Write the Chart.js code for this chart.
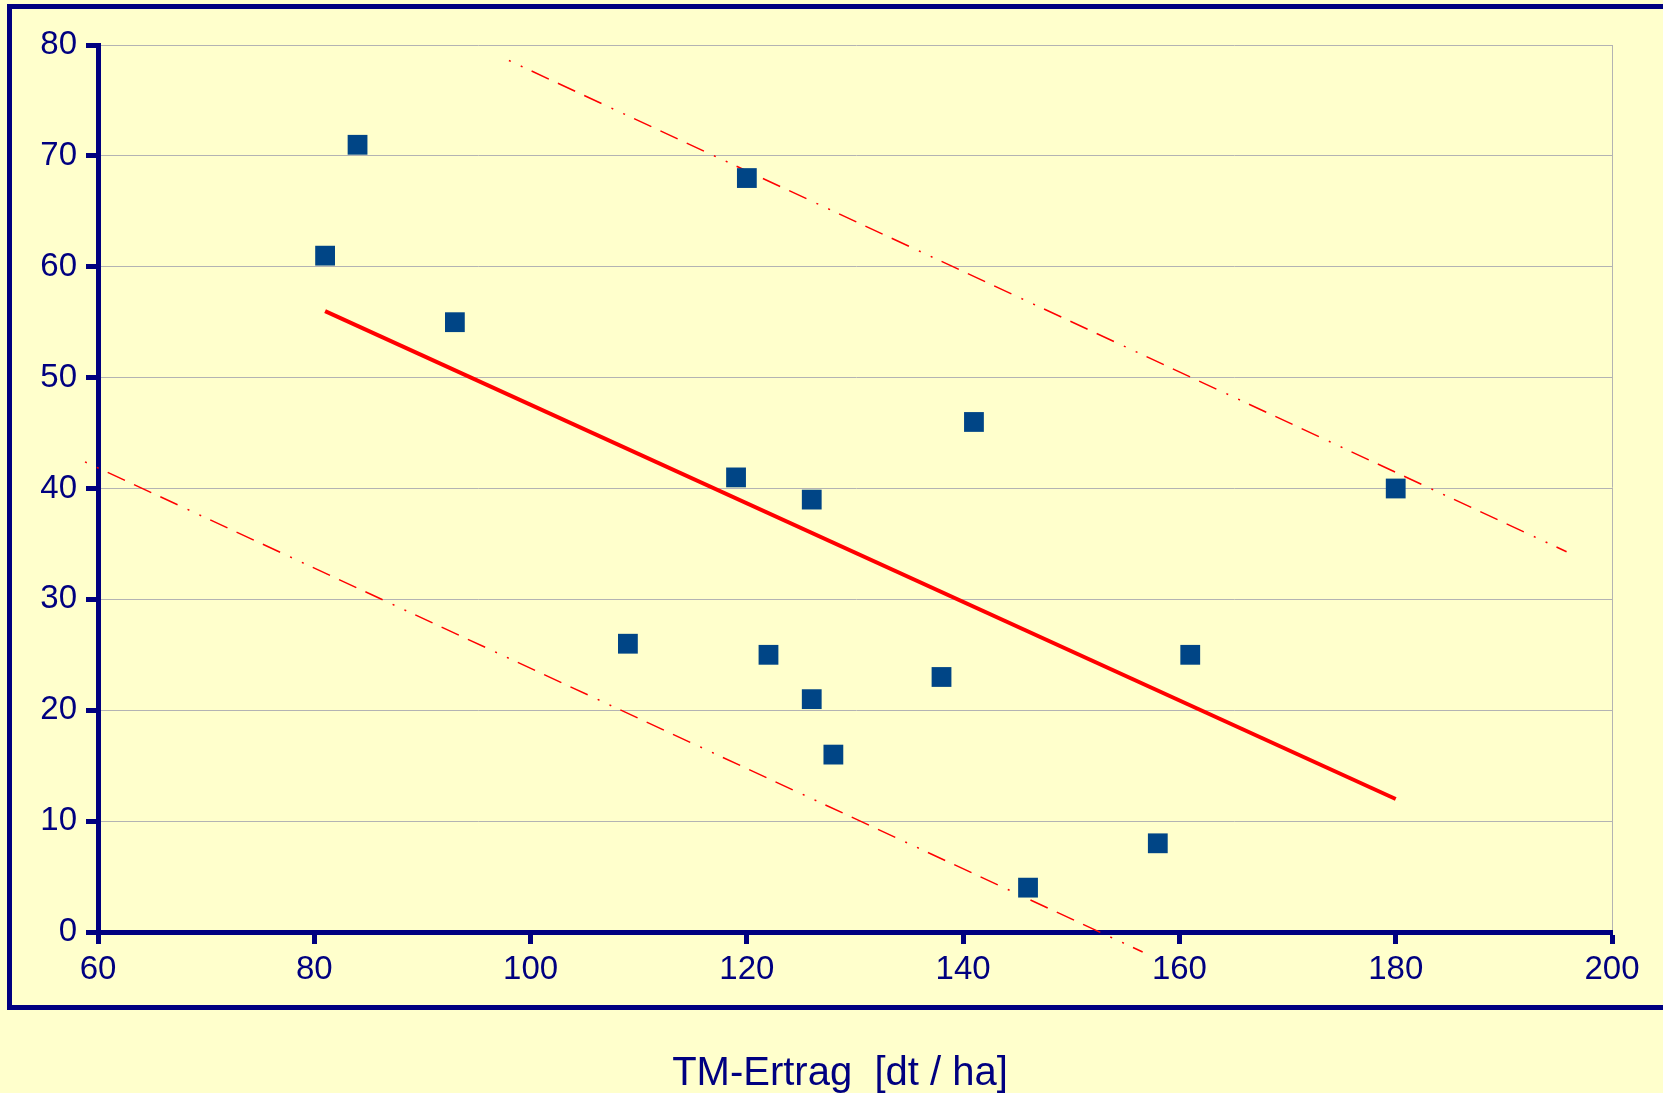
<!DOCTYPE html>
<html><head><meta charset="utf-8">
<script src="https://cdn.jsdelivr.net/npm/chart.js@4.4.1/dist/chart.umd.min.js"></script>
<style>
html,body{margin:0;padding:0;background:#ffffcc;overflow:hidden;width:1663px;height:1093px;}
#frame{position:absolute;left:7px;top:4px;width:1700px;height:996px;border:5px solid #000080;}
#c{position:absolute;left:0;top:0;}
</style></head><body>
<div id="frame"></div>
<canvas id="c" width="1663" height="1093"></canvas>
<script>
// ---- data ----
const xTicks = [60, 80, 100, 120, 140, 160, 180, 200];
const yTicks = [0, 10, 20, 30, 40, 50, 60, 70, 80];
const yieldX = [81, 84, 93, 109, 120, 119, 122, 126, 126, 128, 138, 141, 146, 158, 161, 180];
const valueY = [61, 71, 55, 26, 68, 41, 25, 39, 21, 16, 23, 46, 4, 8, 25, 40];
const fitX = [81, 180];
const fitY = [56, 12];
const upperX = [98.0, 195.8];
const upperY = [78.6, 34.3];
const lowerX = [58.8, 156.6];
const lowerY = [42.4, -1.8];
const axisTitle = 'TM-Ertrag  [dt / ha]';

const pts = (xs, ys) => xs.map((x, i) => ({x: x, y: ys[i]}));
const NAVY = '#000080';
const GRID = '#b3b3b3';
const dashDot = [2, 11, 2, 10, 19, 10, 19, 10, 19, 11];
const tickFont = {family: 'Liberation Sans', size: 33};

// shift the bottom title so it is centred where the original puts it
const titleShift = {
  id: 'titleShift',
  afterLayout(chart) {
    const t = chart.titleBlock;
    if (t) { t.left += 34; t.right += 34; }
  }
};

new Chart(document.getElementById('c'), {
  type: 'scatter',
  plugins: [titleShift],
  data: {
    datasets: [
      {data: pts(upperX, upperY), showLine: true, borderColor: '#ff0000', borderWidth: 1.5,
       borderDash: dashDot, pointRadius: 0, clip: false, order: 3},
      {data: pts(lowerX, lowerY), showLine: true, borderColor: '#ff0000', borderWidth: 1.5,
       borderDash: dashDot, pointRadius: 0, clip: false, order: 3},
      {data: pts(fitX, fitY), showLine: true, borderColor: '#ff0000', borderWidth: 4,
       pointRadius: 0, clip: false, order: 2},
      {data: pts(yieldX, valueY), showLine: false, pointStyle: 'rect', pointRadius: 14,
       pointHoverRadius: 14, backgroundColor: '#004586', borderColor: '#004586',
       pointBorderWidth: 0, order: 1}
    ]
  },
  options: {
    responsive: false,
    animation: false,
    events: [],
    layout: {autoPadding: false, padding: {left: 0, right: 51, top: 45, bottom: 0}},
    plugins: {
      legend: {display: false},
      tooltip: {enabled: false},
      title: {display: true, text: axisTitle, position: 'bottom', color: NAVY,
        font: {family: 'Liberation Sans', size: 40, weight: 'normal', lineHeight: 0.95},
        padding: {top: 0, bottom: 0}}
    },
    scales: {
      x: {
        type: 'linear', min: 60, max: 200,
        afterBuildTicks: s => { s.ticks = xTicks.map(v => ({value: v})); },
        afterFit: s => { s.height = 123; },
        grid: {
          color: c => (c.tick && c.tick.value === 200) ? GRID : 'rgba(0,0,0,0)',
          lineWidth: 1, tickColor: NAVY, tickWidth: 5, tickLength: 12, drawTicks: true
        },
        border: {display: true, color: NAVY, width: 5},
        ticks: {color: NAVY, font: tickFont, padding: 6, maxRotation: 0, autoSkip: false}
      },
      y: {
        type: 'linear', min: 0, max: 80,
        afterBuildTicks: s => { s.ticks = yTicks.map(v => ({value: v})); },
        afterFit: s => { s.width = 98; },
        grid: {color: GRID, lineWidth: 1, tickColor: NAVY, tickWidth: 5, tickLength: 12},
        border: {display: true, color: NAVY, width: 5},
        ticks: {color: NAVY, font: tickFont, padding: 9, autoSkip: false}
      }
    }
  }
});
</script>
</body></html>
